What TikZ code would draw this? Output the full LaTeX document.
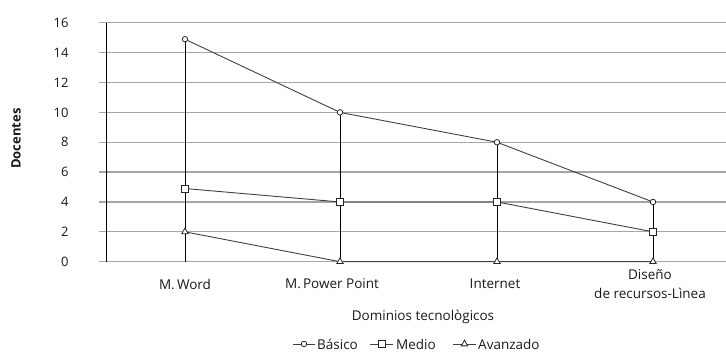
\documentclass[tikz,border=0pt]{standalone}
\usepackage{fontspec}
\setmainfont{Open Sans}
\usetikzlibrary{shapes.geometric}

\begin{document}
\begin{tikzpicture}[x=1pt, y=1pt, font=\fontsize{13.5}{16}\selectfont, text=black!90,
	grid/.style={gray!70, line width=1.3pt},
	serie/.style={black!75, line width=0.9pt},
	drop/.style={black, line width=0.8pt},
	bas/.style={circle, draw=black!85, fill=white, line width=0.8pt, inner sep=0pt, minimum size=5.5pt},
	med/.style={rectangle, draw=black!85, fill=white, line width=0.8pt, inner sep=0pt, minimum size=7pt},
	ava/.style={regular polygon, regular polygon sides=3, draw=black!85, fill=white, line width=0.8pt, inner sep=0pt, minimum size=7.5pt}]
	\useasboundingbox (0,0) rectangle (726,352);
	\begin{scope}[shift={(0,90.3)}, y=14.93pt]
		\foreach \v in {0,2,...,16} {
			\draw[grid] (99,\v) -- (726,\v);
			\node[anchor=east, font=\fontsize{13}{16}\selectfont] (t\v) at (72,\v) {\v};
		}
		\draw[drop] (106,0) -- (106,16);
		% drop lines
		\foreach \i/\x/\b in {1/185/14.9, 2/340/10, 3/497/8, 4/653/4} {
			\coordinate (c\i) at (\x,0);
			\coordinate (d\i) at (\x,\b);
			\draw[drop] (d\i) -- (c\i);
		}
		\foreach \i/\x/\b/\m/\a in {1/185/14.9/4.9/2, 2/340/10/4/0, 3/497/8/4/0, 4/653/4/2/0} {
			\node[bas] (b\i) at (\x,\b) {};
			\node[med] (m\i) at (\x,\m) {};
			\node[ava] (a\i) at (\x,\a) {};
		}
		\draw[serie] (b1) -- (b2) -- (b3) -- (b4);
		\draw[serie] (m1) -- (m2) -- (m3) -- (m4);
		\draw[serie] (a1) -- (a2) -- (a3) -- (a4);
	\end{scope}
	\node[rotate=90, font=\fontsize{13}{16}\selectfont\bfseries] (ytit) at (16,213.5) {Docentes};
	\node (l1) at (185,68) {M.\,Word};
	\node (l2) at (332,68) {M.\,Power Point};
	\node (l3) at (495,68) {Internet};
	\node[align=center, font=\fontsize{13.5}{19}\selectfont] (l4) at (650,68) {Diseño\\de recursos-Lìnea};
	\node (xtit) at (423,35) {Dominios tecnològicos};
	% legend
	\draw[serie] (293,8) -- (315,8);
	\node[bas] (kb) at (304,8) {};
	\node[anchor=west, inner sep=1pt] (tb) at (316,8) {Básico};
	\draw[serie] (370,8) -- (393,8);
	\node[med] (km) at (381.5,8) {};
	\node[anchor=west, inner sep=1pt] (tm) at (395,8) {Medio};
	\draw[serie] (453,8) -- (476,8);
	\node[ava] (ka) at (464.5,8) {};
	\node[anchor=west, inner sep=1pt] (ta) at (477,8) {Avanzado};
\end{tikzpicture}
\end{document}
